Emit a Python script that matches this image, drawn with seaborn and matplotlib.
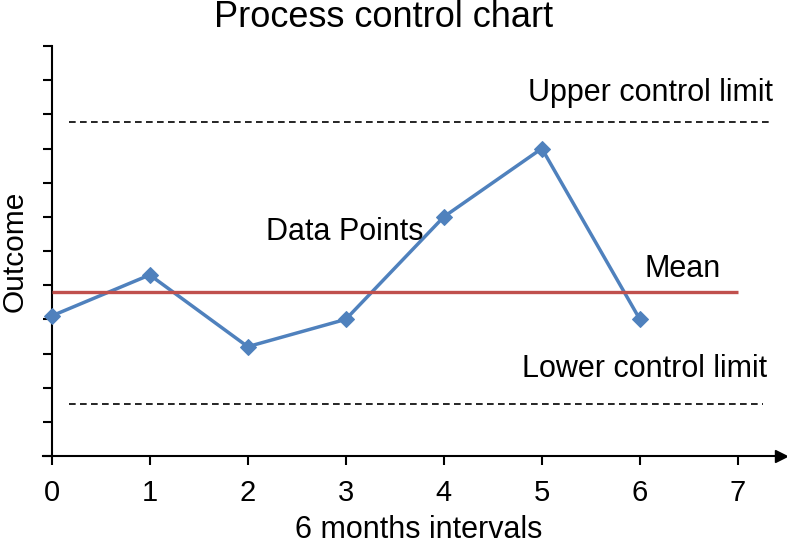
import matplotlib
matplotlib.use("Agg")
import matplotlib.pyplot as plt
import pandas as pd
import seaborn as sns

# chart values
intervals = [0, 1, 2, 3, 4, 5, 6]
outcomes = [4.1, 5.3, 3.2, 4.0, 7.0, 9.0, 4.0]
mean_value = 4.8
upper_limit = 9.77
lower_limit = 1.53
x_ticks = [0, 1, 2, 3, 4, 5, 6, 7]
y_ticks = list(range(13))

blue = "#4F81BD"
red = "#C0504D"

sns.set_style("white")
plt.rcParams["font.family"] = ["Liberation Sans", "DejaVu Sans"]
plt.rcParams["text.color"] = "black"
plt.rcParams["axes.labelcolor"] = "black"
plt.rcParams["xtick.color"] = "black"
plt.rcParams["ytick.color"] = "black"

fig = plt.figure(figsize=(7.87, 5.44), dpi=100)
ax = fig.add_axes([43 / 787, 88 / 544, 738 / 787, 410 / 544])

df = pd.DataFrame({"interval": intervals, "outcome": outcomes})
sns.lineplot(
    data=df,
    x="interval",
    y="outcome",
    marker="D",
    markersize=8.5,
    markeredgecolor=blue,
    color=blue,
    linewidth=2.5,
    ax=ax,
    zorder=3,
)

# mean and control limits
ax.hlines(mean_value, 0, 7, color=red, linewidth=2.4, zorder=4)
ax.hlines(upper_limit, 0.18, 7.35, color="black", linewidth=1.2,
          linestyles=(0, (4, 2.6)))
ax.hlines(lower_limit, 0.18, 7.26, color="black", linewidth=1.2,
          linestyles=(0, (4, 2.6)))

ax.text(7.36, 10.40, "Upper control limit", fontsize=22, ha="right", va="baseline")
ax.text(6.05, 5.25, "Mean", fontsize=22, ha="left", va="baseline")
ax.text(2.19, 6.32, "Data Points", fontsize=22, ha="left", va="baseline")
ax.text(7.30, 2.30, "Lower control limit", fontsize=22, ha="right", va="baseline")

ax.set_xlim(-0.089, 7.44)
ax.set_ylim(0, 12)
ax.set_xticks(x_ticks)
ax.set_yticks(y_ticks)
ax.set_xticklabels([str(t) for t in x_ticks])
ax.tick_params(axis="both", direction="out", length=6.5, width=1.5,
               color="black", bottom=True, left=True, labelleft=False)
ax.tick_params(axis="x", labelsize=21, pad=10)

for side in ["top", "right"]:
    ax.spines[side].set_visible(False)
ax.spines["left"].set_position(("data", 0))
for side in ["left", "bottom"]:
    ax.spines[side].set_color("black")
    ax.spines[side].set_linewidth(1.5)

# arrow head on the x axis
ax.plot([1], [0], marker=">", markersize=9, color="black",
        transform=ax.get_yaxis_transform(), clip_on=False)

ax.set_xlabel("6 months intervals", fontsize=22)
ax.xaxis.set_label_coords(0.5095, -0.2)
ax.xaxis.label.set_va("baseline")
ax.set_ylabel("Outcome", fontsize=21.5)
ax.yaxis.set_label_coords(-0.028, 0.4988)
ax.yaxis.label.set_va("baseline")

ax.set_title("Process control chart", fontsize=26, x=0.462, y=1.047, pad=0)

fig.savefig("out.png", dpi=100)
